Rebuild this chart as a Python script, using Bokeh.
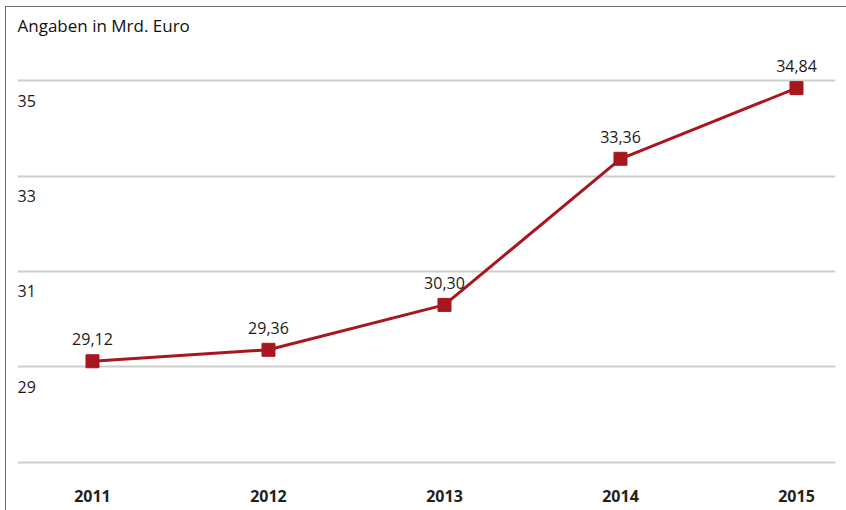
from bokeh.plotting import figure
from bokeh.models import ColumnDataSource, FixedTicker, Range1d
from bokeh.core.properties import value
from bokeh.embed import file_html
from bokeh.resources import INLINE

years = [2011, 2012, 2013, 2014, 2015]
spending = [29.12, 29.36, 30.30, 33.36, 34.84]
value_labels = [f"{v:.2f}".replace(".", ",") for v in spending]
grid_ticks = [27, 29, 31, 33, 35]
y_label_values = [29, 31, 33, 35]
y_label_texts = ["29", "31", "33", "35"]
title_text = "Angaben in Mrd. Euro"

RED = "#a8171f"
FONT = "Open Sans"

x_start, x_end = 2010.574, 2015.2216
p = figure(width=846, height=510, output_backend="svg", toolbar_location=None,
           x_range=Range1d(x_start, x_end), y_range=Range1d(26.874, 35.796),
           min_border_left=17, min_border_right=11, min_border_top=42, min_border_bottom=42)
p.title.text = title_text
p.title.text_font = FONT
p.title.text_font_size = "17px"
p.title.text_font_style = "normal"
p.title.text_color = "#111111"
p.title.offset = 0
p.title.standoff = 11

p.outline_line_color = None
p.border_fill_color = None
p.background_fill_color = None
p.styles = {"box-shadow": "inset 5px 6px 0 0 #ffffff, inset 6px 7px 0 0 #6e6e6e",
            "background-color": "#ffffff"}

p.xgrid.grid_line_color = None
p.ygrid.ticker = FixedTicker(ticks=grid_ticks)
p.ygrid.grid_line_color = "#cdcdcd"
p.ygrid.grid_line_width = 2
p.yaxis.visible = False

p.xaxis.ticker = FixedTicker(ticks=years)
p.xaxis.axis_line_color = None
p.xaxis.major_tick_line_color = None
p.xaxis.minor_tick_line_color = None
p.xaxis.major_tick_out = 0
p.xaxis.major_label_standoff = 21
p.xaxis.major_label_text_font = FONT
p.xaxis.major_label_text_font_size = "16px"
p.xaxis.major_label_text_font_style = "bold"
p.xaxis.major_label_text_color = "#222222"

src = ColumnDataSource(dict(x=years, y=spending, lab=value_labels))
p.line("x", "y", source=src, line_color=RED, line_width=3)
p.scatter("x", "y", source=src, marker="square", size=13, fill_color=RED, line_color=RED)
p.text("x", "y", text="lab", source=src, text_font=value(FONT), text_font_size="16px",
       text_color="#1a1a1a", text_align="center", text_baseline="middle", y_offset=-22)

ysrc = ColumnDataSource(dict(x=[x_start] * len(y_label_values), y=y_label_values, t=y_label_texts))
p.text("x", "y", text="t", source=ysrc, text_font=value(FONT), text_font_size="16px",
       text_color="#1a1a1a", text_align="left", text_baseline="middle", y_offset=20)

open("out.html", "w").write(file_html(p, INLINE))
